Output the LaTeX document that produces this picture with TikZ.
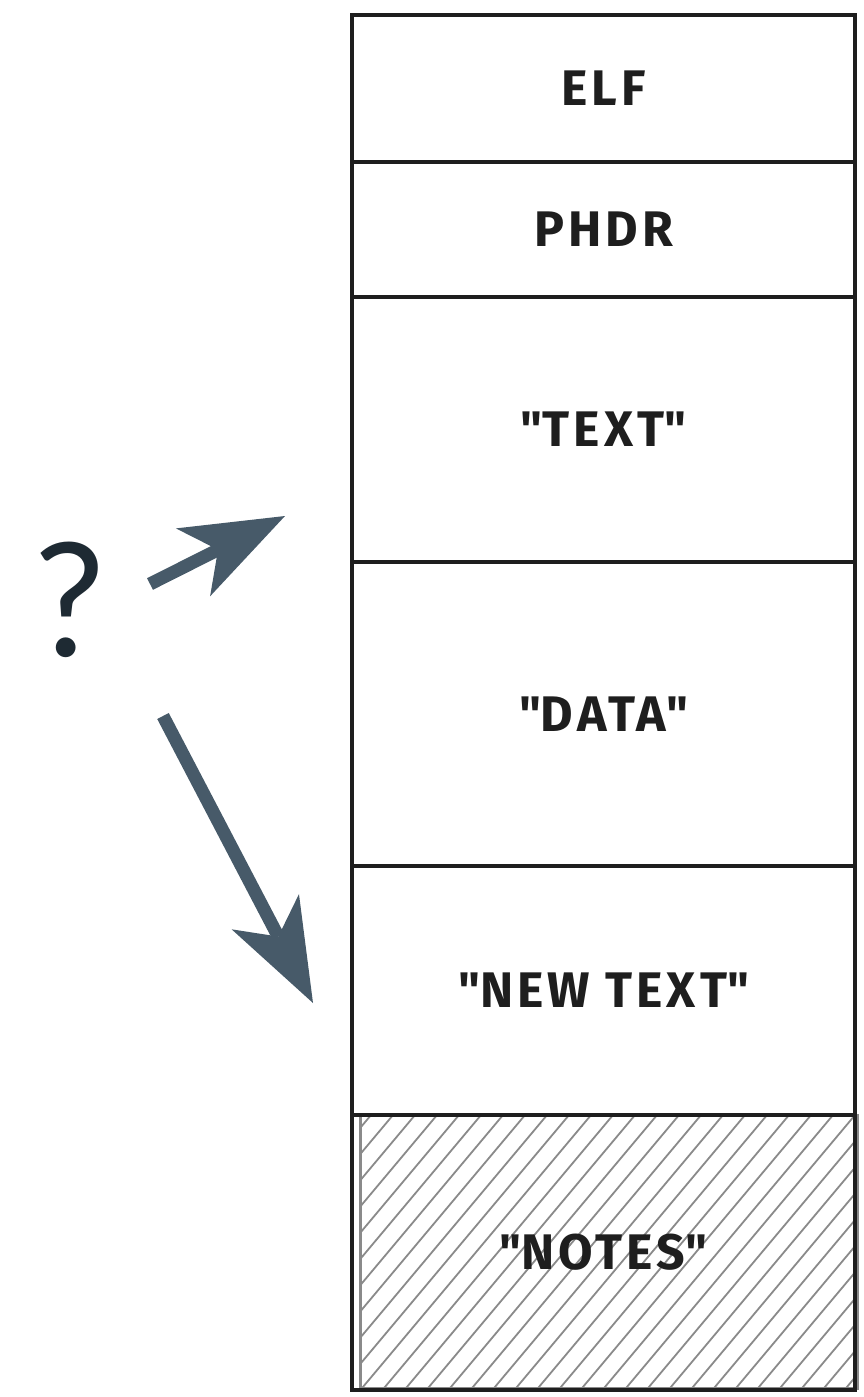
\documentclass[tikz,border=0pt]{standalone}
\usepackage{fontspec}
\setmainfont{Fira Sans}[LetterSpace=8]
\newfontfamily\qfont{Lato}
\usetikzlibrary{arrows.meta,positioning}

\definecolor{ink}{HTML}{1E1E1E}
\definecolor{slate}{HTML}{475A69}
\definecolor{qmark}{HTML}{1E2A33}
\definecolor{hatch}{HTML}{8A8A8A}

\newcommand{\qq}[1]{\textquotedbl#1\textquotedbl}

\begin{document}
\begin{tikzpicture}[x=1pt,y=-1pt]
\tikzset{ >={Stealth[length=103pt,width=76pt,inset=28pt,line width=0pt]},
  seg/.style={draw=ink, line width=4.5pt, minimum width=503pt, inner sep=0pt, outer sep=0pt,
    font=\fontsize{50}{58}\selectfont\bfseries, text=ink},
  hint/.style={->, slate, line width=13pt},
}
\useasboundingbox (0,0) rectangle (864,1397);

%\draw [lightgray, dashed](0,0) grid[step=100] (864,1397);

% hatched part at the bottom
\begin{scope}
\clip (360,1115) rectangle (857,1388);
\foreach \i in {0,22,...,900}
  \draw [hatch, line width=1.8pt] (\i,1400) -- ++(260,-310);
\end{scope}
\draw [hatch, line width=3pt] (360,1115) rectangle (857,1388);

% the file layout
\node [seg, minimum height=147pt, anchor=north] (elf) at (603.5,15) {ELF};
\node [seg, minimum height=135pt, below=0pt of elf] (phdr) {PHDR};
\node [seg, minimum height=265pt, below=0pt of phdr] (text) {\qq{TEXT}};
\node [seg, minimum height=304pt, below=0pt of text] (data) {\qq{DATA}};
\node [seg, minimum height=249pt, below=0pt of data] (newtext) {\qq{NEW TEXT}};
\node [seg, minimum height=275pt, below=0pt of newtext] (notes) {\qq{NOTES}};

% where does it go?
\node [text=qmark, font=\qfont\fontsize{158}{158}\selectfont, inner sep=0pt] (q) at (70,600) {?};

\coordinate (s1) at (150,584);
\coordinate (t1) at (285,516);
\coordinate (s2) at (163,716);
\coordinate (t2) at (313,1003);

\draw [hint] (s1) -- (t1);
\draw [hint] (s2) -- (t2);
\end{tikzpicture}
\end{document}
